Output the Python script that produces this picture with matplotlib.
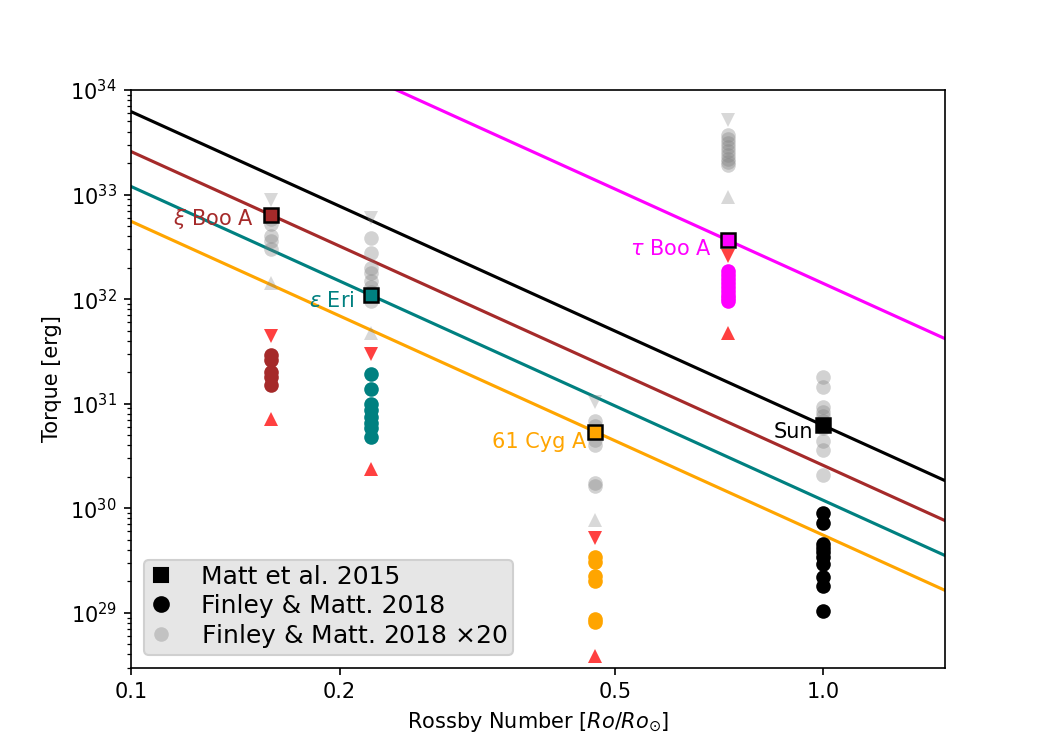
import numpy as np
import matplotlib
matplotlib.use("Agg")
import matplotlib.pyplot as plt
from matplotlib.lines import Line2D

# Stars (Matt et al. 2015 torques)
star_names = [r"$\xi$ Boo A", r"$\epsilon$ Eri", "61 Cyg A", r"$\tau$ Boo A", "Sun"]
star_colors = ["brown", "teal", "orange", "magenta", "black"]
star_rossby = [0.159, 0.222, 0.468, 0.729, 1.0]
star_torque = [6.4e32, 1.09e32, 5.4e30, 3.65e32, 6.2e30]
torque_slope = -3.0  # power-law index of model lines

# Finley & Matt 2018 torques per star
fm_xiboo = [2.9e31, 2.6e31, 2.0e31, 1.8e31, 1.5e31]
fm_eperi = [1.93e31, 1.39e31, 1.0e31, 8.8e30, 7.5e30, 6.6e30, 5.9e30, 4.85e30]
fm_61cyg = [3.4e29, 3.06e29, 2.25e29, 2.0e29, 8.8e28, 8.2e28]
fm_tauboo = [1.85e32, 1.7e32, 1.55e32, 1.42e32, 1.3e32, 1.2e32, 1.1e32, 1.02e32, 9.5e31]
fm_sun = [8.95e29, 7.2e29, 4.6e29, 4.2e29, 3.8e29, 3.4e29, 2.9e29, 2.2e29, 1.8e29, 1.04e29]
fm_values = [fm_xiboo, fm_eperi, fm_61cyg, fm_tauboo, fm_sun]

# Range limits (upper / lower) per star; None where absent
fm_upper = [4.4e31, 3.0e31, 5.2e29, 2.6e32, None]
fm_lower = [7.2e30, 2.35e30, 3.9e28, 4.7e31, None]
scale_factor = 20.0

xticks = [0.1, 0.2, 0.5, 1.0]
xtick_labels = ["0.1", "0.2", "0.5", "1.0"]

label_offsets = [(-8, -2), (-8, -3), (-4, -5), (-8, -4), (-5, -3)]

fig, ax = plt.subplots(figsize=(7, 5), dpi=150)

xline = np.array([0.1, 1.5])
for r, t, c in zip(star_rossby, star_torque, star_colors):
    ax.plot(xline, t * (xline / r) ** torque_slope, color=c, lw=1.5, zorder=2)

ms = 7
for r, vals, up, lo, c in zip(star_rossby, fm_values, fm_upper, fm_lower, star_colors):
    vals = np.array(vals)
    ax.plot([r] * len(vals), vals * scale_factor, "o", color="grey", alpha=0.35,
            ms=ms, mec="none", zorder=3)
    ax.plot([r] * len(vals), vals, "o", color=c, ms=ms, mec="none", zorder=3)
    if up is not None:
        ax.plot(r, up * scale_factor, "v", color="grey", alpha=0.3, ms=ms, mec="none", zorder=3)
        ax.plot(r, lo * scale_factor, "^", color="grey", alpha=0.3, ms=ms, mec="none", zorder=3)
        ax.plot(r, up, "v", color="red", alpha=0.75, ms=ms, mec="none", zorder=3)
        ax.plot(r, lo, "^", color="red", alpha=0.75, ms=ms, mec="none", zorder=3)

for r, t, c, n, off in zip(star_rossby, star_torque, star_colors, star_names, label_offsets):
    ax.plot(r, t, "s", color=c, mec="black", mew=1.2, ms=6.5, zorder=5)
    ax.annotate(n, (r, t), xytext=off, textcoords="offset points",
                ha="right", va="center", color=c, fontsize=10, zorder=5)

ax.set_xscale("log")
ax.set_yscale("log")
ax.set_xlim(0.1, 1.5)
ax.set_ylim(3e28, 1e34)
ax.set_xticks(xticks)
ax.set_xticklabels(xtick_labels)
ax.xaxis.set_minor_locator(matplotlib.ticker.NullLocator())
ax.set_xlabel(r"Rossby Number [$Ro/Ro_{\odot}$]")
ax.set_ylabel("Torque [erg]")

handles = [
    Line2D([], [], ls="none", marker="s", color="black", ms=7),
    Line2D([], [], ls="none", marker="o", color="black", ms=7),
    Line2D([], [], ls="none", marker="o", color="grey", alpha=0.35, ms=7, mec="none"),
]
labels = ["Matt et al. 2015", "Finley & Matt. 2018", "Finley & Matt. 2018 $\\times$20"]
leg = ax.legend(handles, labels, loc="lower left", fontsize=12, handlelength=1.0,
                handletextpad=1.1, labelspacing=0.18, facecolor="#e6e6e6",
                framealpha=1, edgecolor="#d0d0d0", borderpad=0.2)

fig.savefig("out.png", dpi=150)
